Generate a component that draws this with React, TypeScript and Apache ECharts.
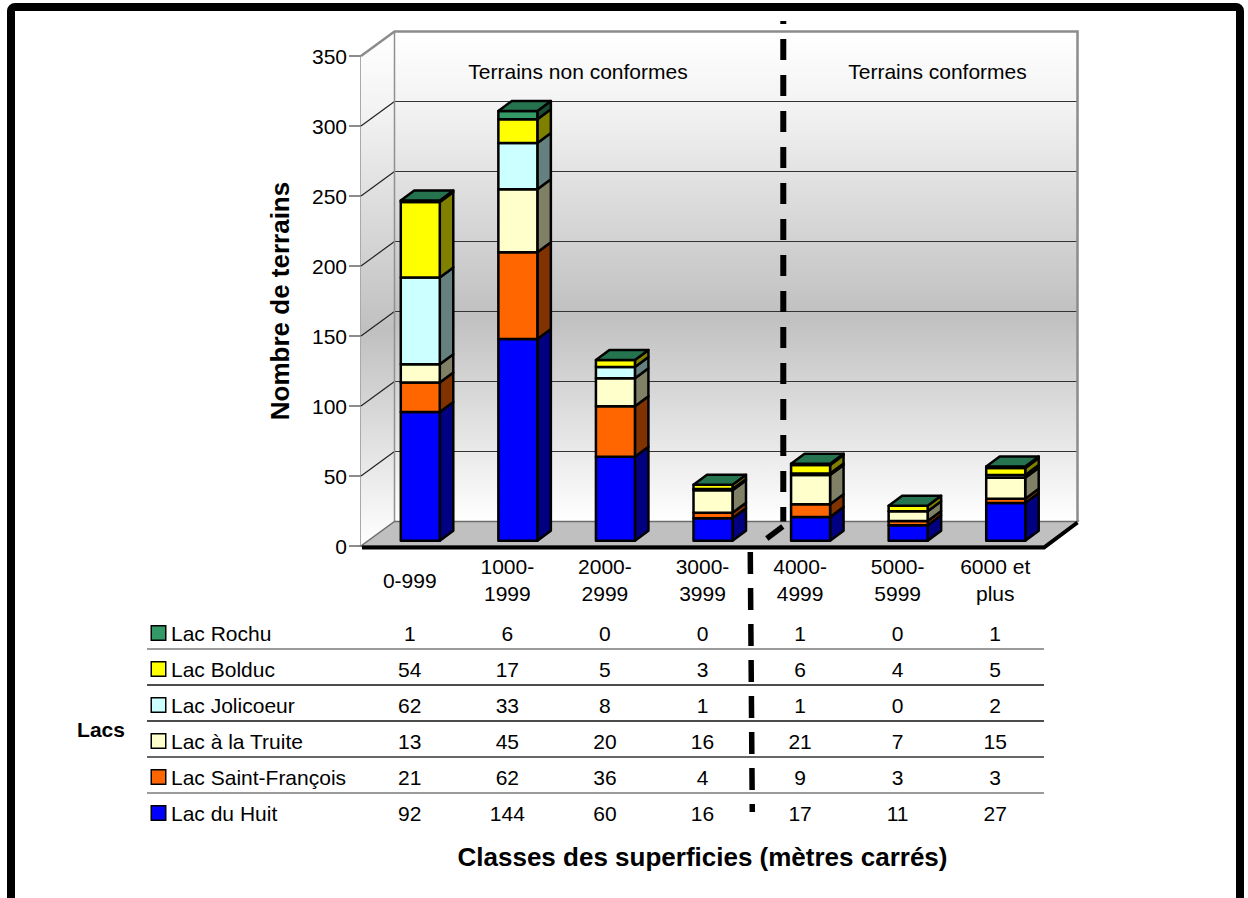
import React, { useEffect, useRef } from 'react';
import * as echarts from 'echarts';

const FONT = '"Liberation Sans", Arial, Helvetica, sans-serif';

// Categories (size classes, m²)
const categories = ['0-999', '1000-\n1999', '2000-\n2999', '3000-\n3999', '4000-\n4999', '5000-\n5999', '6000 et\nplus'];

// Series values (stack order: bottom to top)
const lacDuHuit = [92, 144, 60, 16, 17, 11, 27];
const lacSaintFrancois = [21, 62, 36, 4, 9, 3, 3];
const lacALaTruite = [13, 45, 20, 16, 21, 7, 15];
const lacJolicoeur = [62, 33, 8, 1, 1, 0, 2];
const lacBolduc = [54, 17, 5, 3, 6, 4, 5];
const lacRochu = [1, 6, 0, 0, 1, 0, 1];

const stackNames = ['Lac du Huit', 'Lac Saint-François', 'Lac à la Truite', 'Lac Jolicoeur', 'Lac Bolduc', 'Lac Rochu'];
const stackValues = [lacDuHuit, lacSaintFrancois, lacALaTruite, lacJolicoeur, lacBolduc, lacRochu];
const frontColors = ['#0000FF', '#FF6600', '#FFFFCC', '#CCFFFF', '#FFFF00', '#339966'];
const sideColors = ['#000080', '#803300', '#808066', '#668080', '#808000', '#1a4d33'];
const topColors = ['#0000c0', '#c04d00', '#c0c099', '#99c0c0', '#c0c000', '#267350'];

// Table rows (top to bottom)
const tableRows = ['Lac Rochu', 'Lac Bolduc', 'Lac Jolicoeur', 'Lac à la Truite', 'Lac Saint-François', 'Lac du Huit'];

// Value axis ticks
const yTicks = [0, 50, 100, 150, 200, 250, 300, 350];

const sectionLabels = ['Terrains non conformes', 'Terrains conformes'];

export default function App() {
  const ref = useRef<HTMLDivElement>(null);

  useEffect(() => {
    if (!ref.current) return;
    const chart = echarts.init(ref.current, undefined, { renderer: 'svg' });

    const GRID_L = 361, GRID_T = 56, GRID_W = 683, GRID_H = 490;
    const TABLE_L = 147, TABLE_T = 613, TABLE_W = 897, TABLE_H = 216;
    const catW = GRID_W / categories.length;
    const tableXMax = categories.length - 0.5;
    const tableXMin = tableXMax - TABLE_W / catW;

    const DX = 33.5, DY = -24.5; // wall depth
    const BDX = 13.5, BDY = -10; // bar depth
    const BAR_SHIFT_X = 10.5, BAR_SHIFT_Y = -5.3, BAR_HALF = 19.5;

    const wallGradient = () =>
      new echarts.graphic.LinearGradient(0, 0, 0, 1, [
        { offset: 0, color: '#ffffff' },
        { offset: 0.15, color: '#f3f3f3' },
        { offset: 0.58, color: '#c0c0c0' },
        { offset: 1, color: '#ffffff' },
      ]);

    const wallsSeries = {
      type: 'custom',
      xAxisIndex: 0,
      yAxisIndex: 0,
      z: 1,
      silent: true,
      clip: false,
      data: [[0, 0]],
      renderItem: (params: any, api: any) => {
        const cs = params.coordSys;
        const x0 = cs.x, y0 = cs.y, w = cs.width, h = cs.height;
        const bottom = y0 + h;
        const children: any[] = [];
        children.push({
          type: 'rect',
          shape: { x: x0 + DX, y: y0 + DY, width: w, height: h },
          style: { fill: wallGradient() },
        });
        children.push({
          type: 'polygon',
          shape: { points: [[x0, y0], [x0 + DX, y0 + DY], [x0 + DX, bottom + DY], [x0, bottom]] },
          style: { fill: wallGradient() },
        });
        yTicks.forEach((t) => {
          if (t <= 0 || t >= 350) return;
          const y = api.coord([0, t])[1];
          children.push({
            type: 'line',
            shape: { x1: x0, y1: y, x2: x0 + DX, y2: y + DY },
            style: { stroke: '#222', lineWidth: 1.2 },
          });
          children.push({
            type: 'line',
            shape: { x1: x0 + DX, y1: y + DY, x2: x0 + DX + w, y2: y + DY },
            style: { stroke: '#333', lineWidth: 1.2 },
          });
        });
        children.push({
          type: 'line',
          shape: { x1: x0 + DX, y1: y0 + DY, x2: x0 + DX, y2: bottom + DY },
          style: { stroke: '#909090', lineWidth: 1.5 },
        });
        children.push({
          type: 'polyline',
          shape: { points: [[x0, y0], [x0 + DX, y0 + DY], [x0 + w + DX, y0 + DY], [x0 + w + DX, bottom + DY]] },
          style: { stroke: '#8c8c8c', lineWidth: 2.5, fill: 'none' },
        });
        // floor
        children.push({
          type: 'polygon',
          shape: { points: [[x0, bottom], [x0 + w, bottom], [x0 + w + DX, bottom + DY], [x0 + DX, bottom + DY]] },
          style: { fill: '#c0c0c0', stroke: '#6e6e6e', lineWidth: 1.5 },
        });
        children.push({
          type: 'polyline',
          shape: { points: [[x0 + 1, bottom + 1.5], [x0 + w, bottom + 1.5], [x0 + w + DX, bottom + DY + 1]] },
          style: { stroke: '#000', lineWidth: 4, fill: 'none' },
        });
        // dashed separator between categories 4 and 5
        const xb = x0 + 4 * (w / categories.length);
        children.push({
          type: 'line',
          shape: { x1: xb + DX - 1.5, y1: 21, x2: xb + DX - 1.5, y2: bottom + DY },
          style: { stroke: '#000', lineWidth: 6, lineDash: [21, 15], lineDashOffset: 18, lineCap: 'butt' },
        });
        children.push({
          type: 'line',
          shape: { x1: xb + DX - 2, y1: bottom + DY + 5, x2: xb + DX - 18, y2: bottom + DY + 17 },
          style: { stroke: '#000', lineWidth: 5.5, lineCap: 'butt' },
        });
        children.push({
          type: 'line',
          shape: { x1: xb - 1, y1: 552, x2: xb + 1, y2: 812 },
          style: { stroke: '#000', lineWidth: 5.5, lineDash: [22, 14], lineCap: 'butt' },
        });
        return { type: 'group', children };
      },
    };

    const cumulative = categories.map(() => 0);
    const barSeries = stackValues.map((vals, k) => {
      const data = vals.map((v, i) => {
        const item = [i, cumulative[i], v];
        cumulative[i] += v;
        return item;
      });
      const isTop = k === stackValues.length - 1;
      return {
        type: 'custom',
        name: stackNames[k],
        xAxisIndex: 0,
        yAxisIndex: 0,
        z: 3 + k,
        clip: false,
        data,
        renderItem: (params: any, api: any) => {
          const i = api.value(0), base = api.value(1), v = api.value(2);
          const p0 = api.coord([i, base]);
          const p1 = api.coord([i, base + v]);
          const cx = p0[0] + BAR_SHIFT_X;
          const xl = cx - BAR_HALF, xr = cx + BAR_HALF;
          const yb = p0[1] + BAR_SHIFT_Y, yt = p1[1] + BAR_SHIFT_Y;
          const ls = { stroke: '#000', lineWidth: 2.5, lineJoin: 'round' };
          const children: any[] = [];
          if (v > 0) {
            children.push({
              type: 'polygon',
              shape: { points: [[xr, yb], [xr + BDX, yb + BDY], [xr + BDX, yt + BDY], [xr, yt]] },
              style: { fill: sideColors[k], ...ls },
            });
            children.push({
              type: 'rect',
              shape: { x: xl, y: yt, width: xr - xl, height: yb - yt },
              style: { fill: frontColors[k], ...ls },
            });
          }
          if (isTop) {
            children.push({
              type: 'polygon',
              shape: { points: [[xl, yt], [xl + BDX, yt + BDY], [xr + BDX, yt + BDY], [xr, yt]] },
              style: { fill: topColors[k], ...ls },
            });
          }
          return { type: 'group', children };
        },
      };
    });

    const tableData: any[] = [];
    tableRows.forEach((name, r) => {
      const vals = stackValues[stackNames.indexOf(name)];
      vals.forEach((v, i) => tableData.push([i, r, v]));
    });

    const tableSeries = {
      type: 'custom',
      xAxisIndex: 1,
      yAxisIndex: 1,
      z: 5,
      clip: false,
      data: tableData,
      renderItem: (params: any, api: any) => {
        const p = api.coord([api.value(0), api.value(1)]);
        return {
          type: 'text',
          x: p[0],
          y: p[1] + 2,
          style: {
            text: String(api.value(2)),
            fontSize: 21,
            fontFamily: FONT,
            fill: '#000',
            align: 'center',
            verticalAlign: 'middle',
          },
        };
      },
    };

    const rich: any = {
      sp: { width: 6 },
      t: { fontSize: 21, fontFamily: FONT, color: '#000' },
    };
    tableRows.forEach((name, r) => {
      rich['k' + r] = {
        width: 13,
        height: 13,
        backgroundColor: frontColors[stackNames.indexOf(name)],
        borderColor: '#000',
        borderWidth: 1.5,
      };
    });

    const option: any = {
      animation: false,
      backgroundColor: '#ffffff',
      textStyle: { fontFamily: FONT },
      grid: [
        { left: GRID_L, top: GRID_T, width: GRID_W, height: GRID_H, outerBoundsMode: 'none', containLabel: false },
        { left: TABLE_L, top: TABLE_T, width: TABLE_W, height: TABLE_H, outerBoundsMode: 'none', containLabel: false },
      ],
      xAxis: [
        {
          type: 'category',
          gridIndex: 0,
          data: categories,
          axisLine: { show: false },
          axisTick: { show: false },
          splitLine: { show: false },
          axisLabel: {
            interval: 0,
            fontSize: 21,
            fontFamily: FONT,
            color: '#000',
            lineHeight: 27,
            verticalAlign: 'middle',
            margin: 34,
          },
          name: 'Classes des superficies (mètres carrés)',
          nameLocation: 'middle',
          nameGap: 311,
          nameMoveOverlap: false,
          nameTextStyle: { fontSize: 26, fontWeight: 'bold', fontFamily: FONT, color: '#000', verticalAlign: 'middle' },
        },
        {
          type: 'value',
          gridIndex: 1,
          min: tableXMin,
          max: tableXMax,
          show: false,
        },
      ],
      yAxis: [
        {
          type: 'value',
          gridIndex: 0,
          min: 0,
          max: 350,
          interval: 50,
          axisLine: { show: true, lineStyle: { color: '#8c8c8c', width: 2.5 } },
          axisTick: { show: true, length: 12, lineStyle: { color: '#8c8c8c', width: 2 } },
          axisLabel: { fontSize: 21, fontFamily: FONT, color: '#000', margin: 14 },
          splitLine: { show: false },
          name: 'Nombre de terrains',
          nameLocation: 'middle',
          nameGap: 81,
          nameMoveOverlap: false,
          nameTextStyle: { fontSize: 26, fontWeight: 'bold', fontFamily: FONT, color: '#000', verticalAlign: 'middle' },
        },
        {
          type: 'category',
          gridIndex: 1,
          data: tableRows,
          inverse: true,
          axisLine: { show: false },
          axisTick: { show: false },
          axisLabel: {
            inside: true,
            margin: 5,
            align: 'left',
            interval: 0,
            padding: [4, 0, 0, 0],
            formatter: (val: string, idx: number) => `{k${idx}|}{sp|}{t|${val}}`,
            rich,
          },
          splitLine: {
            show: true,
            interval: 0,
            showMinLine: false,
            showMaxLine: false,
            lineStyle: { color: ['#7a7a7a', '#111', '#111', '#333', '#7a7a7a'], width: 1.5 },
          },
        },
      ],
      series: [wallsSeries, ...barSeries, tableSeries],
      graphic: [
        {
          type: 'rect',
          z: 100,
          silent: true,
          shape: { x: 11, y: 7, width: 1229, height: 1000, r: 4 },
          style: { fill: 'none', stroke: '#000', lineWidth: 8 },
        },
        {
          type: 'text',
          z: 100,
          x: 578,
          y: 71,
          style: { text: sectionLabels[0], fontSize: 21, fontFamily: FONT, fill: '#000', align: 'center', verticalAlign: 'middle' },
        },
        {
          type: 'text',
          z: 100,
          x: 937.5,
          y: 71,
          style: { text: sectionLabels[1], fontSize: 21, fontFamily: FONT, fill: '#000', align: 'center', verticalAlign: 'middle' },
        },
        {
          type: 'text',
          z: 100,
          x: 101,
          y: 729,
          style: { text: 'Lacs', fontSize: 21, fontWeight: 'bold', fontFamily: FONT, fill: '#000', align: 'center', verticalAlign: 'middle' },
        },
      ],
    };

    chart.setOption(option);
    return () => chart.dispose();
  }, []);

  return (
    <div
      ref={ref}
      style={{ position: 'absolute', left: 0, top: 0, width: 1248, height: 898, background: '#fff' }}
    />
  );
}
